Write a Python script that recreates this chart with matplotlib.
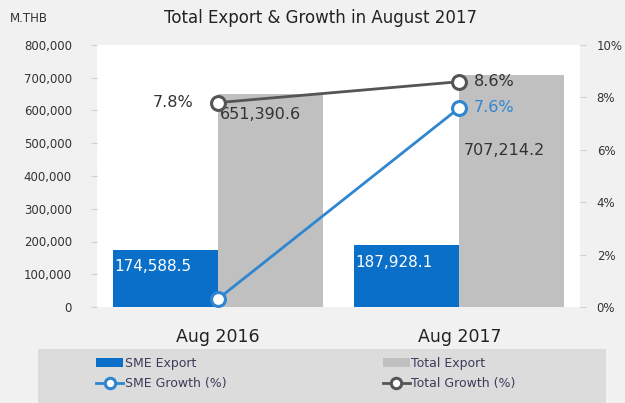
import matplotlib.pyplot as plt
import matplotlib.patches as mpatches
import numpy as np

# data
bulan = ['Aug 2016', 'Aug 2017']
sme_export = [174588.5, 187928.1]
total_export = [651390.6, 707214.2]
sme_growth = [0.3, 7.6]
total_growth = [7.8, 8.6]

biru = '#0a6fc8'
abu = '#c0c0c0'
biru_garis = '#2f86d0'
abu_garis = '#555555'

fig = plt.figure(figsize=(6.25, 4.03), dpi=100)
fig.patch.set_facecolor('#f1f1f1')
ax = fig.add_axes([97/625, 1-307/403, 483/625, 262/403])
ax.set_facecolor('white')

x = np.arange(len(bulan))
w = 0.435
b1 = ax.bar(x - w/2, sme_export, w, color=biru, label='SME Export')
b2 = ax.bar(x + w/2, total_export, w, color=abu, label='Total Export')
ax.set_xlim(-0.5, 1.5)
ax.set_ylim(0, 800000)
ax.set_yticks(range(0, 800001, 100000))
ax.set_yticklabels([f'{v:,}' for v in range(0, 800001, 100000)])
ax.set_xticks(x)
ax.set_xticklabels(bulan, fontsize=12.5, color='#222222')
ax.tick_params(axis='x', length=0, pad=15)
ax.tick_params(axis='y', length=4, color='#d0d0d0', labelsize=8.5, labelcolor='#333333', pad=14)
for s in ax.spines.values():
    s.set_visible(False)

# label nilai bar
for i in range(len(bulan)):
    ax.text(x[i] - w + 0.005, sme_export[i] - 52000, f'{sme_export[i]:,.1f}',
            color='white', fontsize=11, ha='left', va='center')
ax.text(x[0] + 0.01, total_export[0] - 65000, f'{total_export[0]:,.1f}',
        color='#333333', fontsize=11.5, ha='left', va='center')
ax.text(x[1] + 0.02, total_export[1] - 228000, f'{total_export[1]:,.1f}',
        color='#333333', fontsize=11.5, ha='left', va='center')

ax2 = ax.twinx()
ax2.set_ylim(0, 10)
ax2.set_yticks([0, 2, 4, 6, 8, 10])
ax2.set_yticklabels([f'{v}%' for v in [0, 2, 4, 6, 8, 10]])
ax2.tick_params(axis='y', length=4, color='#d0d0d0', labelsize=8.5, labelcolor='#333333', pad=8)
for s in ax2.spines.values():
    s.set_visible(False)

l1, = ax2.plot(x, sme_growth, color=biru_garis, linewidth=2, marker='o', markersize=10,
               markerfacecolor='white', markeredgewidth=2.2, label='SME Growth (%)')
l2, = ax2.plot(x, total_growth, color=abu_garis, linewidth=2, marker='o', markersize=10,
               markerfacecolor='white', markeredgewidth=2.2, label='Total Growth (%)')

ax2.text(x[0] - 0.1, total_growth[0], f'{total_growth[0]}%', color='#333333',
         fontsize=11.5, ha='right', va='center')
ax2.text(x[1] + 0.06, total_growth[1], f'{total_growth[1]}%', color='#333333',
         fontsize=11.5, ha='left', va='center')
ax2.text(x[1] + 0.06, sme_growth[1], f'{sme_growth[1]}%', color=biru_garis,
         fontsize=11.5, ha='left', va='center')

# judul
fig.text(0.512, 0.955, 'Total Export & Growth in August 2017', ha='center', va='center',
         fontsize=12, color='#222222')
fig.text(0.016, 0.955, 'M.THB', ha='left', va='center', fontsize=8.5, color='#333333')

# kotak legend
fig.patches.append(mpatches.Rectangle((38/625, 0), 568/625, 1-349/403,
                                      transform=fig.transFigure, facecolor='#dcdcdc',
                                      edgecolor='none', zorder=0))
leg = fig.legend(handles=[b1, l1, b2, l2], ncol=2, loc='upper left',
                 bbox_to_anchor=(96/625, 1-357/403), frameon=False, fontsize=9,
                 handlelength=2.2, handletextpad=0.1, borderaxespad=0, borderpad=0,
                 labelspacing=0.55, columnspacing=12.5, markerscale=0.75)
for t in leg.get_texts():
    t.set_color('#3c3c5a')

fig.savefig('out.png', dpi=100, facecolor=fig.get_facecolor())
